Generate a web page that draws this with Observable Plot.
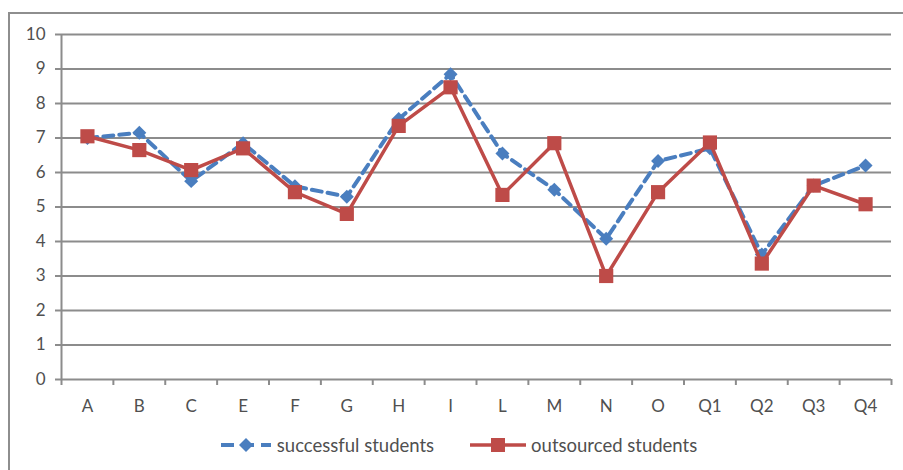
<!DOCTYPE html>
<html>
<head>
<meta charset="utf-8">
<script src="https://cdn.jsdelivr.net/npm/d3@7"></script>
<script src="https://cdn.jsdelivr.net/npm/@observablehq/plot@0.6"></script>
<style>
  html, body { margin: 0; padding: 0; background: #fff; overflow: hidden; }
  #wrap { position: relative; width: 903px; height: 470px; overflow: hidden; font-family: Lato, "Open Sans", sans-serif; }
  #frame { position: absolute; left: 8px; top: 12px; width: 1200px; height: 1000px; border-left: 2px solid #8e8e8e; border-top: 2px solid #8e8e8e; box-sizing: border-box; }
  #chart { position: absolute; left: 0; top: 0; }
  #legend { position: absolute; left: 0; top: 434px; width: 903px; display: flex; justify-content: center; align-items: center; gap: 36px; font-size: 18.5px; color: #505050; padding-left: 14px; box-sizing: border-box; }
  .item { display: flex; align-items: center; gap: 5px; }
</style>
</head>
<body>
<div id="wrap">
  <div id="frame"></div>
  <div id="chart"></div>
  <div id="legend"></div>
</div>
<script>
const categories = ["A","B","C","E","F","G","H","I","L","M","N","O","Q1","Q2","Q3","Q4"];
const successful = [7.0, 7.15, 5.75, 6.85, 5.6, 5.3, 7.55, 8.85, 6.55, 5.5, 4.08, 6.33, 6.7, 3.62, 5.62, 6.2];
const outsourced = [7.05, 6.65, 6.07, 6.7, 5.43, 4.8, 7.35, 8.47, 5.35, 6.85, 3.0, 5.43, 6.87, 3.36, 5.62, 5.08];
const yTicks = [0,1,2,3,4,5,6,7,8,9,10];
const seriesNames = ["successful students", "outsourced students"];

const blue = "#4A7EBF";
const red = "#BE4B48";

const dataS = categories.map((c, i) => ({i, cat: c, v: successful[i]}));
const dataO = categories.map((c, i) => ({i, cat: c, v: outsourced[i]}));
const idx = categories.map((c, i) => i);
const bounds = [...idx, categories.length].map(i => i - 0.5);

const plot = Plot.plot({
  width: 903,
  height: 420,
  marginLeft: 61,
  marginRight: 12,
  marginTop: 34,
  marginBottom: 41,
  style: {fontFamily: "Lato, 'Open Sans', sans-serif", fontSize: "17px", color: "#505050", background: "transparent"},
  x: {type: "linear", domain: [-0.5, categories.length - 0.5]},
  y: {domain: [0, 10]},
  marks: [
    Plot.ruleY(yTicks.slice(1), {stroke: "#8c8c8c", strokeWidth: 2}),
    Plot.ruleY([0], {stroke: "#8c8c8c", strokeWidth: 2}),
    Plot.ruleX([-0.5], {stroke: "#8c8c8c", strokeWidth: 2}),
    Plot.axisY({ticks: yTicks, tickSize: 6, tickPadding: 10, stroke: "#8c8c8c", strokeWidth: 2, fill: "#505050", label: null, fontSize: 17}),
    Plot.axisX({ticks: bounds, tickSize: 6, tickFormat: () => "", stroke: "#8c8c8c", strokeWidth: 2, label: null}),
    Plot.axisX({ticks: idx, tickSize: 0, tickPadding: 20, tickFormat: i => categories[i], fill: "#505050", label: null, fontSize: 17}),
    Plot.line(dataS, {x: "i", y: "v", stroke: blue, strokeWidth: 4, strokeDasharray: "10,6"}),
    Plot.dot(dataS, {x: "i", y: "v", symbol: "diamond2", r: 6.3, fill: blue, stroke: "none"}),
    Plot.line(dataO, {x: "i", y: "v", stroke: red, strokeWidth: 3.5}),
    Plot.dot(dataO, {x: "i", y: "v", symbol: "square", r: 8, fill: red, stroke: "none"})
  ]
});
document.getElementById("chart").appendChild(plot);

const legend = document.getElementById("legend");
legend.innerHTML = `
  <div class="item">
    <svg width="52" height="16"><line x1="1" y1="8" x2="51" y2="8" stroke="${blue}" stroke-width="4" stroke-dasharray="13,7"/><path d="M26,1 L33,8 L26,15 L19,8 Z" fill="${blue}"/></svg>
    <span>${seriesNames[0]}</span>
  </div>
  <div class="item">
    <svg width="56" height="18"><line x1="0" y1="9" x2="56" y2="9" stroke="${red}" stroke-width="3.5"/><rect x="21" y="2" width="14" height="14" fill="${red}"/></svg>
    <span>${seriesNames[1]}</span>
  </div>`;
</script>
</body>
</html>
